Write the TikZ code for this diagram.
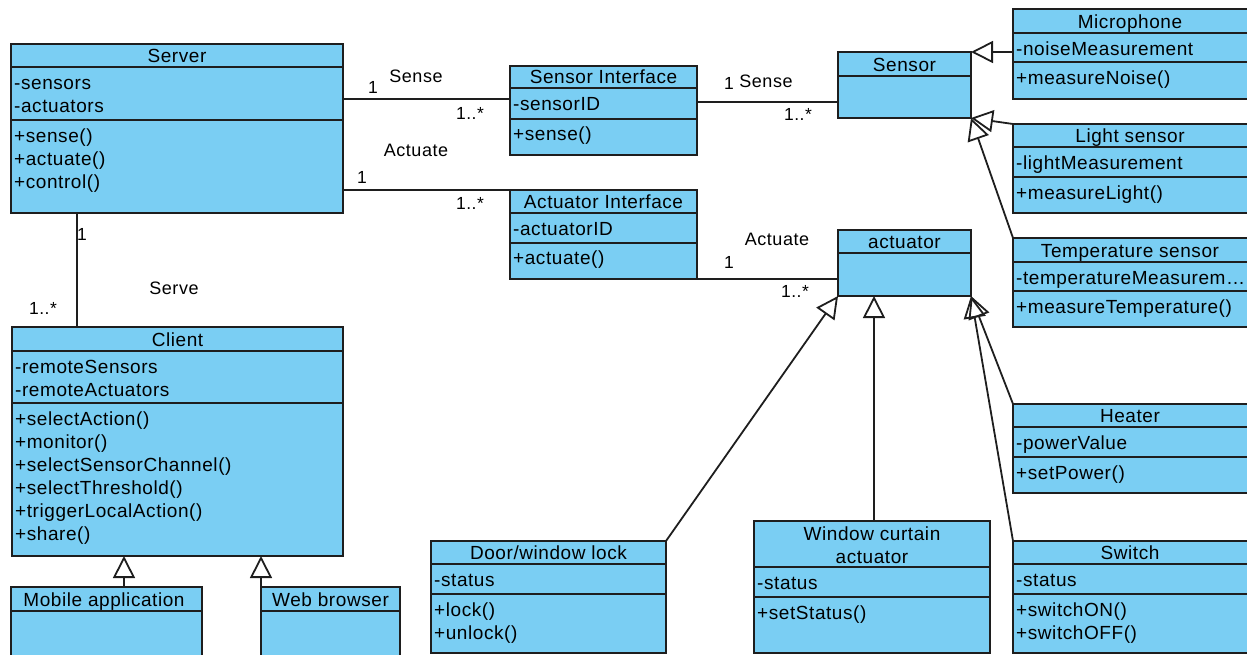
\documentclass[tikz,border=0pt]{standalone}
\usepackage{fontspec}
\setmainfont{Liberation Sans}
\newfontfamily\boxfont{Liberation Sans}[LetterSpace=3]
\usetikzlibrary{arrows.meta}
\definecolor{clsfill}{RGB}{122,206,243}
\definecolor{ink}{RGB}{30,30,30}
\newcommand\csep[3]{\draw[sepline] (#1,#3) -- (#2,#3);}
\tikzset{
 cls/.style={draw=ink, fill=clsfill, line width=1.8pt, outer sep=0pt, inner sep=0pt, anchor=north west},
 sepline/.style={draw=ink, line width=1.8pt},
 ttl/.style={font=\boxfont\fontsize{19}{23}\selectfont, anchor=base, inner sep=0pt},
 mem/.style={font=\boxfont\fontsize{19}{23}\selectfont, anchor=base west, inner sep=0pt},
 lbl/.style={font=\boxfont\fontsize{18}{21}\selectfont, inner sep=0pt},
 mult/.style={font=\boxfont\fontsize{17.5}{20}\selectfont, inner sep=0pt},
 assoc/.style={draw=ink, line width=1.8pt},
 gen/.style={draw=ink, line width=1.8pt, -{Triangle[open, length=22pt, width=22pt]}},
}
\begin{document}
\begin{tikzpicture}[x=1pt,y=-1pt]
\useasboundingbox (0,0) rectangle (1247,654);

% ---------- Server ----------
\node[cls, minimum width=332pt, minimum height=169pt] (server) at (11,44) {};
\csep{11}{343}{67}\csep{11}{343}{120}
\node[ttl] (server-t) at (177,62) {Server};
\node[mem] (server-a1) at (14,89) {-sensors};
\node[mem] (server-a2) at (14,112) {-actuators};
\node[mem] (server-m1) at (14,142) {+sense()};
\node[mem] (server-m2) at (14,165) {+actuate()};
\node[mem] (server-m3) at (14,188) {+control()};

% ---------- Sensor Interface ----------
\node[cls, minimum width=187pt, minimum height=89pt] (si) at (510,66) {};
\csep{510}{697}{88}\csep{510}{697}{119}
\node[ttl] (si-t) at (603.5,83) {Sensor Interface};
\node[mem] (si-a1) at (513,110) {-sensorID};
\node[mem] (si-m1) at (513,140) {+sense()};

% ---------- Actuator Interface ----------
\node[cls, minimum width=187pt, minimum height=89pt] (ai) at (510,190) {};
\csep{510}{697}{213}\csep{510}{697}{243}
\node[ttl] (ai-t) at (603.5,208) {Actuator Interface};
\node[mem] (ai-a1) at (513,235) {-actuatorID};
\node[mem] (ai-m1) at (513,264) {+actuate()};

% ---------- Sensor ----------
\node[cls, minimum width=133pt, minimum height=66pt] (sensor) at (838,52) {};
\csep{838}{971}{76}
\node[ttl] (sensor-t) at (904.5,71) {Sensor};

% ---------- actuator ----------
\node[cls, minimum width=133pt, minimum height=66pt] (actuator) at (838,230) {};
\csep{838}{971}{253}
\node[ttl] (actuator-t) at (904.5,248) {actuator};

% ---------- Microphone ----------
\node[cls, minimum width=237pt, minimum height=90pt] (mic) at (1013,9) {};
\csep{1013}{1250}{33}\csep{1013}{1250}{62}
\node[ttl] (mic-t) at (1130,28) {Microphone};
\node[mem] (mic-a1) at (1016,55) {-noiseMeasurement};
\node[mem] (mic-m1) at (1016,84) {+measureNoise()};

% ---------- Light sensor ----------
\node[cls, minimum width=237pt, minimum height=89pt] (light) at (1013,124) {};
\csep{1013}{1250}{147}\csep{1013}{1250}{177}
\node[ttl] (light-t) at (1130,142) {Light sensor};
\node[mem] (light-a1) at (1016,169) {-lightMeasurement};
\node[mem] (light-m1) at (1016,199) {+measureLight()};

% ---------- Temperature sensor ----------
\node[cls, minimum width=237pt, minimum height=89pt] (temp) at (1013,238) {};
\csep{1013}{1250}{262}\csep{1013}{1250}{291}
\node[ttl] (temp-t) at (1130,257) {Temperature sensor};
\node[mem] (temp-a1) at (1016,284) {-temperatureMeasurem…};
\node[mem] (temp-m1) at (1016,313) {+measureTemperature()};

% ---------- Client ----------
\node[cls, minimum width=331pt, minimum height=229pt] (client) at (12,327) {};
\csep{12}{343}{351}\csep{12}{343}{403}
\node[ttl] (client-t) at (177.5,346) {Client};
\node[mem] (client-a1) at (15,373) {-remoteSensors};
\node[mem] (client-a2) at (15,396) {-remoteActuators};
\node[mem] (client-m1) at (15,425) {+selectAction()};
\node[mem] (client-m2) at (15,448) {+monitor()};
\node[mem] (client-m3) at (15,471) {+selectSensorChannel()};
\node[mem] (client-m4) at (15,494) {+selectThreshold()};
\node[mem] (client-m5) at (15,517) {+triggerLocalAction()};
\node[mem] (client-m6) at (15,540) {+share()};

% ---------- Mobile application ----------
\node[cls, minimum width=191pt, minimum height=73pt] (mobile) at (11,587) {};
\csep{11}{202}{611}
\node[ttl] (mobile-t) at (104,606) {Mobile application};

% ---------- Web browser ----------
\node[cls, minimum width=139pt, minimum height=73pt] (web) at (261,587) {};
\csep{261}{400}{611}
\node[ttl] (web-t) at (330.5,606) {Web browser};

% ---------- Door/window lock ----------
\node[cls, minimum width=235pt, minimum height=112pt] (door) at (431,541) {};
\csep{431}{666}{564}\csep{431}{666}{594}
\node[ttl] (door-t) at (548.5,559) {Door/window lock};
\node[mem] (door-a1) at (434,586) {-status};
\node[mem] (door-m1) at (434,616) {+lock()};
\node[mem] (door-m2) at (434,639) {+unlock()};

% ---------- Window curtain actuator ----------
\node[cls, minimum width=236pt, minimum height=132pt] (wca) at (754,521) {};
\csep{754}{990}{567}\csep{754}{990}{597}
\node[ttl] (wca-t1) at (872,540) {Window curtain};
\node[ttl] (wca-t2) at (872,563) {actuator};
\node[mem] (wca-a1) at (757,589) {-status};
\node[mem] (wca-m1) at (757,619) {+setStatus()};

% ---------- Heater ----------
\node[cls, minimum width=237pt, minimum height=89pt] (heater) at (1013,404) {};
\csep{1013}{1250}{427}\csep{1013}{1250}{457}
\node[ttl] (heater-t) at (1130,422) {Heater};
\node[mem] (heater-a1) at (1016,449) {-powerValue};
\node[mem] (heater-m1) at (1016,479) {+setPower()};

% ---------- Switch ----------
\node[cls, minimum width=237pt, minimum height=112pt] (switch) at (1013,541) {};
\csep{1013}{1250}{564}\csep{1013}{1250}{594}
\node[ttl] (switch-t) at (1130,559) {Switch};
\node[mem] (switch-a1) at (1016,586) {-status};
\node[mem] (switch-m1) at (1016,616) {+switchON()};
\node[mem] (switch-m2) at (1016,639) {+switchOFF()};

% ---------- Associations ----------
\coordinate (s1) at ([yshift=11.5pt]si.west);
\draw[assoc] (s1 -| server.east) -- (s1);
\draw[assoc] (ai.north west -| server.east) -- (ai.north west);
\coordinate (c1) at ([xshift=65pt]client.north west);
\draw[assoc] (c1 |- server.south) -- (c1);
\coordinate (s2) at ([yshift=-17pt]sensor.west);
\draw[assoc] (s2 -| si.east) -- (s2);
\draw[assoc] (ai.south east) -- (ai.south east -| actuator.west);

% association labels
\node[lbl] (l-sense1) at (416,76) {Sense};
\node[mult] (l-s1a) at (373,87) {1};
\node[mult] (l-s1b) at (470,113) {1..*};
\node[lbl] (l-act1) at (416,150) {Actuate};
\node[mult] (l-a1a) at (362,177) {1};
\node[mult] (l-a1b) at (470,203) {1..*};
\node[mult] (l-c1a) at (82,234) {1};
\node[mult] (l-c1b) at (43,308) {1..*};
\node[lbl] (l-serve) at (174,288) {Serve};
\node[mult] (l-s2a) at (729,83) {1};
\node[lbl] (l-sense2) at (766,81) {Sense};
\node[mult] (l-s2b) at (798,114) {1..*};
\node[lbl] (l-act2) at (777,239) {Actuate};
\node[mult] (l-a2a) at (729,262) {1};
\node[mult] (l-a2b) at (795,291) {1..*};

% ---------- Generalizations ----------
\draw[gen] (mic.west |- sensor.north) -- (sensor.north east);
\draw[gen] (light.north west) -- (sensor.south east);
\draw[gen] (temp.north west) -- (sensor.south east);
\draw[gen] (door.north east) -- (actuator.south west);
\coordinate (w1) at ([xshift=120pt]wca.north west);
\draw[gen] (w1) -- (w1 |- actuator.south);
\draw[gen] (heater.north west) -- (actuator.south east);
\draw[gen] (switch.north west) -- (actuator.south east);
\coordinate (m1) at ([xshift=113pt]mobile.north west);
\draw[gen] (m1) -- (m1 |- client.south);
\draw[gen] (web.north west) -- (web.north west |- client.south);
\end{tikzpicture}
\end{document}
